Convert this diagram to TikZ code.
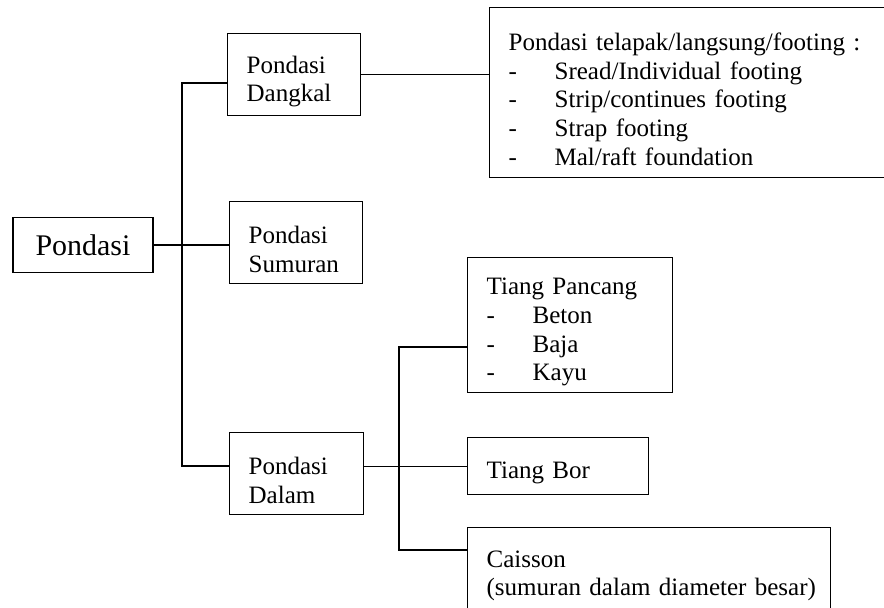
\documentclass[tikz,border=0pt]{standalone}
\usepackage{fontspec}
\setmainfont{Liberation Serif}
\usetikzlibrary{positioning}

% ukuran huruf kotak
\newcommand{\teksbox}{\fontsize{17.8}{20.4}\selectfont}
\newcommand{\teksbesar}{\fontsize{21.3}{24}\selectfont}
% butir daftar dengan tanda "-"
\newcommand{\butir}{\makebox[1.15cm][l]{-}}

\tikzset{
  kotak/.style={draw, line width=0.9pt, anchor=north west, inner xsep=0.475cm,
    inner ysep=0pt, align=left, font=\teksbox, turun=22pt},
  turun/.style={execute at begin node={\rule{0pt}{#1}}},
  garis/.style={line width=0.9pt}
}

\begin{document}
\begin{tikzpicture}

  % --- 1. batas gambar ---
  \clip (0,0) rectangle (22.1,-15.175);

  % --- 2. kotak utama ---
  \node[draw, line width=0.9pt, minimum width=3.5cm, minimum height=1.375cm,
    font=\teksbesar] (pondasi) at (2.075,-6.125) {Pondasi};

  % --- 3. kotak tingkat kedua ---
  \node[kotak, text width=2.375cm, minimum height=2.05cm] (dangkal) at (5.675,-0.825)
    {Pondasi\\Dangkal};
  \node[kotak, text width=2.375cm, minimum height=2.05cm] (sumuran) at (5.725,-5.025)
    {Pondasi\\Sumuran};
  \node[kotak, text width=2.4cm, minimum height=2.05cm] (dalam) at (5.725,-10.8)
    {Pondasi\\Dalam};

  % --- 4. kotak tingkat ketiga ---
  \node[kotak, text width=9.2cm, minimum height=4.25cm] (footing) at (12.225,-0.175)
    {Pondasi telapak/langsung/footing :\\
     \butir Sread/Individual footing\\
     \butir Strip/continues footing\\
     \butir Strap footing\\
     \butir Mal/raft foundation};
  \node[kotak, text width=4.175cm, minimum height=3.375cm] (pancang) at (11.675,-6.425)
    {Tiang Pancang\\
     \butir Beton\\
     \butir Baja\\
     \butir Kayu};
  \node[kotak, turun=0pt, text width=3.575cm, minimum height=1.425cm] (bor) at (11.675,-10.925)
    {Tiang Bor};
  \node[kotak, text width=8.125cm, minimum height=2.05cm] (caisson) at (11.675,-13.175)
    {Caisson\\\mbox{(sumuran dalam diameter besar)}};

  % --- 5. garis penghubung ---
  % batang kiri
  \coordinate (t1) at (4.55,-2.075);
  \coordinate (t2) at (4.55,-11.65);
  \draw[garis] (dangkal.west |- t1) -- (t1) -- (t2) -- (t2 -| dalam.west);
  \draw[garis] (pondasi.east) -- (pondasi.east -| sumuran.west);
  \draw[garis] (dangkal.east) -- (dangkal.east -| footing.west);

  % batang kanan
  \coordinate (s1) at (9.975,-8.675);
  \coordinate (s2) at (9.975,-13.75);
  \draw[garis] (pancang.west |- s1) -- (s1) -- (s2) -- (s2 -| caisson.west);
  \draw[garis] (dalam.east |- bor.west) -- (bor.west);

\end{tikzpicture}
\end{document}
